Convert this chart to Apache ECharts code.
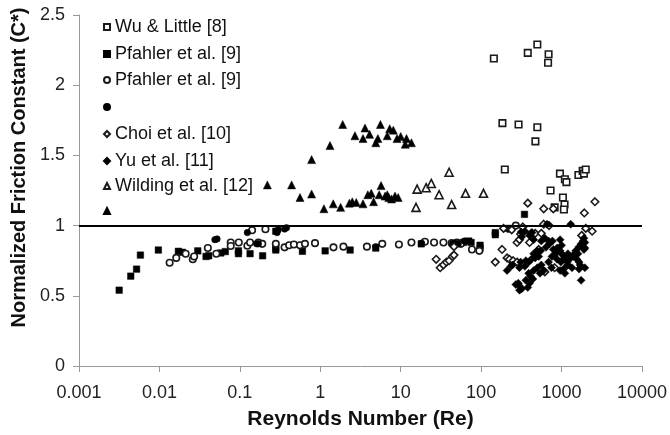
<!DOCTYPE html>
<html>
<head>
<meta charset="utf-8">
<script src="https://cdn.jsdelivr.net/npm/echarts@6/dist/echarts.min.js"></script>
<style>html,body{margin:0;padding:0;background:#fff;}#c{width:670px;height:435px;}</style>
</head>
<body>
<div id="c"></div>
<script>
// ---- data ----
var xTickLabels = ['0.001','0.01','0.1','1','10','100','1000','10000'];
var yTickLabels = ['0','0.5','1','1.5','2','2.5'];
var refLine = 1;

var wuLittle = [
[144,2.19],[380,2.23],[500,2.29],[690,2.22],[680,2.16],
[184,1.73],[292,1.72],[500,1.70],[473,1.60],
[197,1.40],[955,1.37],[1100,1.33],[1150,1.31],[1620,1.36],[1830,1.39],[1900,1.37],[2000,1.40],
[730,1.25],[1040,1.20],[1090,1.15],[1070,1.115],[820,1.13]
];
var pfahlerSquares = [
[0.00316,0.54],[0.0044,0.64],[0.0052,0.69],[0.0058,0.79],[0.0097,0.826],[0.0172,0.817],[0.0193,0.81],
[0.030,0.82],[0.038,0.78],[0.041,0.785],[0.058,0.805],[0.066,0.815],[0.096,0.80],[0.096,0.82],
[0.134,0.80],[0.192,0.785],[0.28,0.826],[0.28,0.84],[0.28,0.96],[0.60,0.817],[1.15,0.82],[2.35,0.826],
[4.9,0.84],[18,0.87],[60,0.88],[70,0.89],[75,0.88],[97,0.86],[97,0.84],[150,0.95],[150,0.935],
[220,0.98],[230,0.975],[346,1.08]
];
var pfahlerCircles = [
[0.0134,0.735],[0.0162,0.77],[0.0212,0.80],[0.026,0.76],[0.027,0.78],[0.040,0.84],[0.051,0.80],
[0.077,0.88],[0.077,0.855],[0.097,0.88],[0.124,0.857],[0.134,0.88],[0.142,0.967],[0.208,0.974],
[0.17,0.88],[0.19,0.87],[0.28,0.87],[0.36,0.845],[0.41,0.86],[0.47,0.865],[0.56,0.86],[0.645,0.87],
[0.86,0.875],[1.46,0.845],[1.94,0.85],[3.8,0.85],[5.9,0.87],[9.5,0.865],[13.6,0.88],[20,0.885],
[26,0.88],[34,0.88],[43,0.875],[50,0.88],[56,0.87],[77,0.83],[95,0.82],[270,1.0]
];
var pfahlerDots = [
[0.049,0.90],[0.052,0.905],[0.124,0.95],[0.162,0.87],[0.17,0.87],[0.29,0.95],[0.30,0.97],
[0.36,0.975],[0.38,0.985],[4.9,0.85],[18.2,0.875],[44,0.87],[48,0.875],[52,0.87],[62,0.89]
];
var choi = [
[27.6,0.76],[31,0.70],[34,0.72],[37,0.74],[40,0.75],[44,0.78],[46,0.79],[46,0.85],
[150,0.74],[182,0.83],[190,0.98],[210,0.77],[225,0.76],[240,0.97],[250,0.75],[280,0.74],[280,0.88],
[300,0.90],[310,0.94],[330,0.99],[380,1.16],[400,0.88],[420,0.945],[470,0.945],[520,0.83],
[560,0.945],[600,1.01],[600,1.12],[620,0.67],[700,1.0],[790,1.12],[820,0.70],[1780,0.93],
[1920,1.09],[2000,0.98],[2400,0.96],[2600,1.17]
];
var yu = [
[300,0.54],[315,0.955],[320,0.92],[430,0.95],[660,1.01],[1300,1.01],[690,0.89],[960,0.90],[550,0.82],[640,0.845],
[790,0.83],[850,0.80],[960,0.82],[1000,0.80],[1080,0.78],
[760,0.78],[880,0.76],[980,0.74],[1050,0.76],[1180,0.74],
[1200,0.72],[1100,0.70],[1350,0.70],
[1400,0.78],[1450,0.80],[1500,0.82],
[1650,0.85],[1750,0.87],[1850,0.89],[1900,0.91],[1950,0.88],[1950,0.84],[1900,0.83],
[1550,0.76],[1650,0.74],[1700,0.72],[1650,0.69],[1950,0.70],[1750,0.61],
[210,0.68],[235,0.71],[300,0.70],[310,0.74],[245,0.72],[350,0.71],
[360,0.75],[390,0.74],[420,0.76],[470,0.77],[520,0.78],
[390,0.66],[410,0.64],[450,0.68],[500,0.70],[560,0.72],
[360,0.61],[400,0.59],[440,0.62],[380,0.56],
[270,0.58],[300,0.57],[320,0.55],[290,0.59],
[560,0.89],[620,0.91],[690,0.74],[750,0.70],[960,0.68],[1100,0.66],[540,0.66],[600,0.68],
[450,0.80],[500,0.82],[710,0.87],[770,0.89],
[350,0.96],[400,0.93],[450,0.90],[1000,0.86],[880,0.84],[1200,0.80],[1300,0.77],[1600,0.80]
];
var wildingOpen = [
[15.5,1.13],[16,1.26],[20.7,1.27],[24,1.30],[30,1.22],[40,1.38],[43,1.15],[64,1.23],[107,1.23]
];
var wildingFilled = [
[0.22,1.29],[0.44,1.29],[0.56,1.20],[0.78,1.225],[0.78,1.47],[1.32,1.57],[1.9,1.72],[2.7,1.64],
[3.4,1.62],[3.6,1.695],[4.1,1.65],[4.9,1.59],[5.2,1.62],[5.6,1.72],[6.8,1.64],[7.3,1.69],[8.1,1.68],
[9.0,1.62],[10,1.635],[11.4,1.58],[11.8,1.62],[13.6,1.59],
[1.11,1.12],[1.45,1.155],[1.79,1.13],[2.3,1.16],[2.5,1.17],[2.8,1.165],[3.4,1.155],[3.9,1.22],
[4.3,1.23],[4.6,1.17],[5.4,1.22],[5.7,1.285],[6.4,1.21],[6.8,1.22],[7.1,1.20],[7.7,1.19],[8.5,1.21],[9.3,1.20]
];

var seriesNames = ['wu','pfs','pfc','pfd','choi','yu','wo','wf'];
var legendLabels = {
  wu:'Wu & Little [8]', pfs:'Pfahler et al. [9]', pfc:'Pfahler et al. [9]', pfd:'',
  choi:'Choi et al. [10]', yu:'Yu et al. [11]', wo:'Wilding et al. [12]', wf:''
};

// ---- chart ----
var chart = echarts.init(document.getElementById('c'), null, {renderer:'canvas'});
var openStyle = {color:'#fff', borderColor:'#1a1a1a', borderWidth:1.6, opacity:1};
var filledStyle = {color:'#000', borderColor:'#000', borderWidth:0.5, opacity:1};

function mk(name, data, symbol, size, style){
  return {name:name, type:'scatter', data:data, symbol:symbol, symbolSize:size,
          itemStyle:style, silent:true, z:3};
}
var series = [
  mk('wu', wuLittle, 'rect', 6.5, openStyle),
  mk('pfs', pfahlerSquares, 'rect', 6.5, filledStyle),
  mk('pfc', pfahlerCircles, 'circle', 6.5, openStyle),
  mk('pfd', pfahlerDots, 'circle', 6.5, filledStyle),
  mk('choi', choi, 'diamond', 7.5, openStyle),
  mk('yu', yu, 'diamond', 8, filledStyle),
  mk('wo', wildingOpen, 'triangle', 8, openStyle),
  mk('wf', wildingFilled, 'triangle', 8, filledStyle)
];
series.push({
  type:'line', data:[], silent:true,
  markLine:{symbol:['none','none'], silent:true, label:{show:false},
    lineStyle:{color:'#000', width:2, type:'solid'}, data:[{yAxis:refLine}]}
});

var legendTops = [23,50,76,103,130,157,182,207];
var legends = seriesNames.map(function(n,i){
  return {data:[n], left:98, top:legendTops[i]-10, orient:'vertical',
    itemWidth:6, itemHeight:6, selectedMode:false,
    formatter:function(name){ return legendLabels[name] || ' '; },
    textStyle:{fontFamily:'Liberation Sans, Arial', fontSize:18, color:'#111'}};
});

chart.setOption({
  animation:false,
  backgroundColor:'#fff',
  grid:{left:79, right:28, top:15, bottom:65},
  legend:legends,
  xAxis:{
    type:'log', logBase:10, min:0.001, max:10000,
    name:'Reynolds Number (Re)', nameLocation:'middle', nameGap:43,
    nameTextStyle:{fontFamily:'Liberation Sans, Arial', fontWeight:'bold', fontSize:21, color:'#111'},
    axisLine:{lineStyle:{color:'#999', width:1}},
    axisTick:{show:true, length:6, lineStyle:{color:'#999'}},
    minorTick:{show:false},
    splitLine:{show:false},
    axisLabel:{margin:18, fontFamily:'Liberation Sans, Arial', fontSize:18, color:'#222',
      formatter:function(v){ var k = Math.round(Math.log10(v))+3; return xTickLabels[k]; }}
  },
  yAxis:{
    type:'value', min:0, max:2.5, interval:0.5,
    name:'Normalized Friction Constant (C*)', nameLocation:'middle', nameGap:46,
    nameTextStyle:{fontFamily:'Liberation Sans, Arial', fontWeight:'bold', fontSize:20, color:'#111', padding:[0,0,0,46]},
    axisLine:{show:true, lineStyle:{color:'#999', width:1}},
    axisTick:{show:true, length:6, lineStyle:{color:'#999'}},
    splitLine:{show:false},
    axisLabel:{margin:14, fontFamily:'Liberation Sans, Arial', fontSize:18, color:'#222',
      formatter:function(v){ return yTickLabels[Math.round(v/0.5)]; }}
  },
  series:series
});
</script>
</body>
</html>
